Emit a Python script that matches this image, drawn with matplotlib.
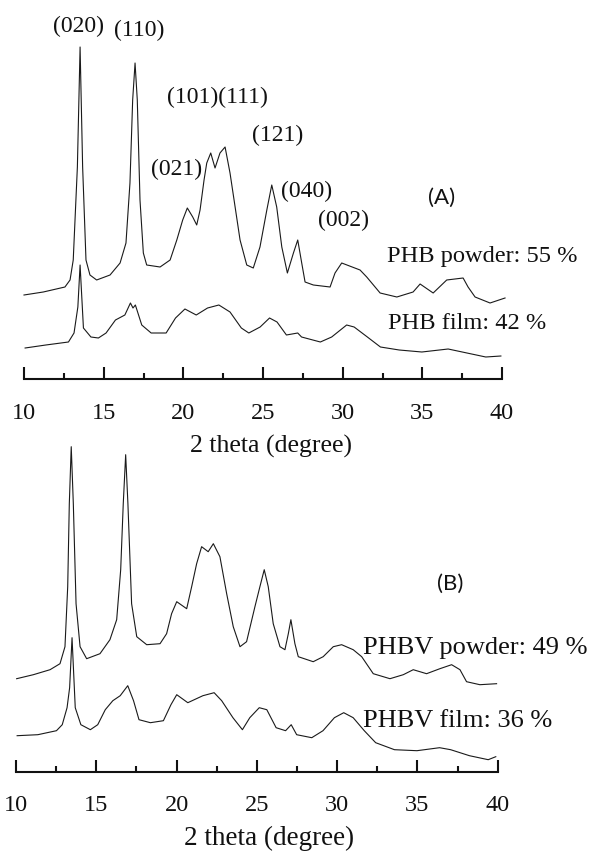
import matplotlib
matplotlib.use('Agg')
import matplotlib.pyplot as plt
from matplotlib.ticker import MultipleLocator

plt.rcParams['font.family'] = ['Liberation Serif', 'DejaVu Serif']

# (A) PHB powder (2 theta, intensity a.u.)
tt_phb_powder = [10.0, 11.21, 12.57, 12.89, 13.09, 13.35, 13.52, 13.68, 13.89, 14.14,
                 14.56, 15.40, 16.03, 16.40, 16.65, 16.82, 16.97, 17.11, 17.28, 17.49,
                 17.70, 18.54, 19.17, 19.59, 19.96, 20.25, 20.59, 20.84, 21.05, 21.30,
                 21.47, 21.72, 21.99, 22.30, 22.62, 22.93, 23.25, 23.56, 23.98, 24.39,
                 24.81, 25.24, 25.55, 25.86, 26.18, 26.53, 26.91, 27.18, 27.43, 27.64,
                 28.16, 29.21, 29.52, 29.94, 31.09, 31.51, 32.35, 33.40, 34.42, 34.86,
                 35.68, 36.53, 37.56, 37.87, 38.31, 39.25, 40.19]
i_phb_powder = [84, 87, 92, 99, 119, 212, 332, 212, 119, 104,
                99, 104, 116, 136, 196, 279, 316, 279, 179, 126,
                114, 112, 119, 139, 159, 171, 162, 154, 169, 199,
                216, 226, 211, 226, 232, 206, 172, 139, 114, 111,
                132, 169, 194, 172, 132, 106, 126, 139, 116, 97,
                94, 92, 106, 116, 109, 102, 86, 82, 87, 95,
                86, 99, 101, 92, 82, 76, 81]

# (A) PHB film
tt_phb_film = [10.07, 11.37, 12.79, 13.14, 13.38, 13.52, 13.73, 14.20, 14.67, 15.15,
               15.74, 16.33, 16.68, 16.84, 16.99, 17.39, 17.98, 18.92, 19.51, 20.10,
               20.81, 21.52, 22.23, 22.93, 23.64, 24.11, 24.82, 25.41, 25.88, 26.47,
               27.18, 27.42, 28.60, 29.31, 30.25, 30.72, 31.55, 32.37, 33.55, 34.97,
               36.62, 37.80, 38.98, 39.93]
i_phb_film = [31, 34, 37, 46, 72, 114, 51, 42, 41, 46,
              59, 64, 76, 71, 74, 54, 46, 46, 61, 70,
              64, 71, 74, 67, 51, 46, 52, 61, 57, 44,
              46, 42, 37, 42, 54, 52, 42, 32, 29, 27,
              30, 26, 22, 23]

# (B) PHBV powder
tt_phbv_powder = [10.04, 11.08, 12.12, 12.74, 13.05, 13.22, 13.32, 13.44, 13.57, 13.74,
                  13.99, 14.40, 15.23, 15.85, 16.27, 16.52, 16.68, 16.83, 16.97, 17.20,
                  17.52, 18.14, 18.97, 19.38, 19.69, 20.01, 20.63, 20.94, 21.25, 21.56,
                  21.97, 22.29, 22.70, 23.12, 23.53, 23.95, 24.36, 24.88, 25.19, 25.46,
                  25.71, 26.02, 26.44, 26.75, 26.96, 27.12, 27.37, 27.58, 28.51, 29.13,
                  29.76, 30.28, 31.00, 31.53, 32.25, 33.29, 34.12, 34.74, 35.57, 36.40,
                  37.13, 37.65, 38.06, 38.89, 39.93]
i_phbv_powder = [93, 97, 102, 108, 125, 185, 268, 325, 268, 168,
                 125, 113, 118, 132, 152, 202, 268, 317, 268, 168,
                 135, 127, 128, 138, 158, 170, 163, 185, 208, 225,
                 220, 228, 215, 178, 145, 125, 130, 165, 185, 202,
                 185, 148, 125, 122, 138, 152, 128, 115, 110, 115,
                 125, 127, 122, 115, 98, 93, 97, 102, 98, 103,
                 107, 102, 90, 87, 88]

# (B) PHBV film
tt_phbv_film = [10.07, 11.36, 12.52, 12.88, 13.18, 13.34, 13.49, 13.69, 14.04, 14.63,
                15.09, 15.56, 16.03, 16.49, 16.96, 17.32, 17.66, 18.37, 19.18, 19.65,
                20.01, 20.70, 21.64, 22.34, 22.81, 23.51, 24.10, 24.56, 25.15, 25.62,
                26.20, 26.79, 27.14, 27.48, 28.42, 29.12, 29.83, 30.41, 31.00, 31.69,
                32.40, 33.57, 34.97, 36.38, 37.07, 38.24, 39.41, 39.88]
i_phbv_film = [36, 37, 41, 47, 64, 84, 134, 64, 47, 42,
               47, 62, 71, 76, 86, 71, 52, 49, 51, 67,
               77, 69, 76, 79, 71, 54, 42, 54, 64, 62,
               44, 41, 47, 37, 34, 41, 54, 59, 54, 41,
               29, 22, 21, 24, 22, 16, 12, 15]

xticks = [10, 15, 20, 25, 30, 35, 40]

fig = plt.figure(figsize=(5.9, 8.52), dpi=100)
W, H = 590.0, 852.0

axA = fig.add_axes([24 / W, 1 - 379 / H, 478 / W, 379 / H])
axB = fig.add_axes([16 / W, 1 - 771.7 / H, 481.7 / W, 331.7 / H])

line_kw = dict(color='#1a1a1a', lw=0.8, clip_on=False)
axA.plot(tt_phb_powder, i_phb_powder, **line_kw)
axA.plot(tt_phb_film, i_phb_film, **line_kw)
axB.plot(tt_phbv_powder, i_phbv_powder, **line_kw)
axB.plot(tt_phbv_film, i_phbv_film, **line_kw)

axA.set_ylim(0, 379)
axB.set_ylim(0, 331.7)

for ax in (axA, axB):
    ax.set_xlim(10, 40)
    ax.patch.set_visible(False)
    for s in ('top', 'left', 'right'):
        ax.spines[s].set_visible(False)
    ax.spines['bottom'].set_linewidth(1.5)
    ax.spines['bottom'].set_color('#111111')
    ax.set_yticks([])
    ax.set_xticks(xticks)
    ax.xaxis.set_minor_locator(MultipleLocator(2.5))
    ax.tick_params(axis='x', which='major', direction='in', length=8.5, width=1.5,
                   pad=17, labelsize=17.5, colors='#111111')
    ax.tick_params(axis='x', which='minor', direction='in', length=4.5, width=1.5,
                   colors='#111111')

axA.set_xlabel('2 theta (degree)', fontsize=18.5, color='#111111')
axB.set_xlabel('2 theta (degree)', fontsize=19.5, color='#111111')
axA.xaxis.label.set_va('center')
axB.xaxis.label.set_va('center')
axA.xaxis.set_label_coords(0.5176, -0.1768)
axB.xaxis.set_label_coords(0.5263, -0.1999)

# peak labels
pk = dict(fontsize=17, ha='center', va='center', color='#111111')
axA.text(13.39, 353, '(020)', **pk)
axA.text(17.22, 348.5, '(110)', **pk)
axA.text(22.15, 281.5, '(101)(111)', **pk)
axA.text(19.59, 210, '(021)', **pk)
axA.text(25.94, 244, '(121)', **pk)
axA.text(27.75, 188, '(040)', **pk)
axA.text(30.03, 159, '(002)', **pk)

sampleA = dict(fontsize=17.6, ha='left', va='baseline', color='#111111')
sampleB = dict(fontsize=19, ha='left', va='baseline', color='#111111')
axA.text(32.79, 117, 'PHB powder: 55 %', **sampleA)
axA.text(32.85, 50, 'PHB film: 42 %', **sampleA)
axB.text(31.61, 117.7, 'PHBV powder: 49 %', **sampleB)
axB.text(31.61, 44.7, 'PHBV film: 36 %', **sampleB)

panel = dict(fontsize=16, ha='center', va='center', family='Lato', color='#111111')
axA.text(36.22, 181, '(A)', **panel)
axB.text(37.02, 187.7, '(B)', **panel)

fig.savefig('out.png', dpi=100, facecolor='white')
